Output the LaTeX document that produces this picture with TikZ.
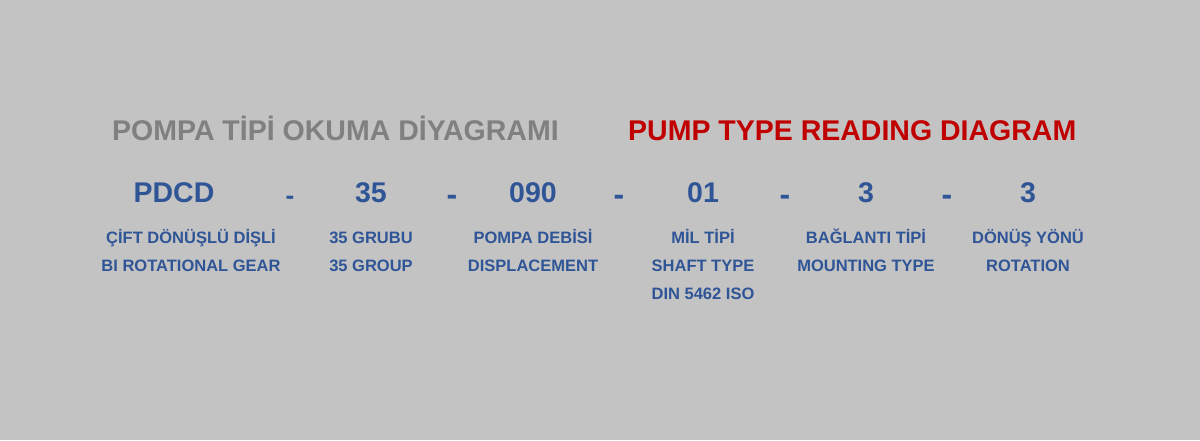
\documentclass[tikz,border=0pt]{standalone}
\usepackage{fontspec}
\setmainfont{Liberation Sans}
\usetikzlibrary{positioning}
\definecolor{bggray}{RGB}{195,195,195}
\definecolor{titlegray}{RGB}{128,128,128}
\definecolor{titlered}{RGB}{192,0,0}
\definecolor{codeblue}{RGB}{47,85,151}
\tikzset{
  heading/.style={anchor=base west, inner sep=0pt, font=\bfseries\fontsize{28.5}{34}\selectfont},
  code/.style={anchor=base, inner sep=0pt, text=codeblue, font=\bfseries\fontsize{28.5}{34}\selectfont},
  sep/.style={anchor=base, inner sep=0pt, text=codeblue, font=\bfseries\fontsize{32}{36}\selectfont},
  desc/.style={anchor=base, inner sep=0pt, text=codeblue, font=\bfseries\fontsize{16.5}{20}\selectfont}
}

\begin{document}
\begin{tikzpicture}[x=1pt,y=-1pt]
\fill[bggray] (0,0) rectangle (1200,440);
\useasboundingbox (0,0) rectangle (1200,440);
% titles
\node[heading, text=titlegray] (tr) at (112,140) {POMPA TİPİ OKUMA DİYAGRAMI};
\node[heading, text=titlered] (en) at (628,140) {PUMP TYPE READING DIAGRAM};
% code
\node[code] (pdcd) at (174,202) {PDCD};
\node[sep, font=\bfseries\fontsize{26}{30}\selectfont] (s1) at (290,204.5) {-};
\node[code] (grp) at (371,202) {35};
\node[sep] (s2) at (452,205) {-};
\node[code] (disp) at (533,202) {090};
\node[sep] (s3) at (619,205) {-};
\node[code] (shaft) at (703,202) {01};
\node[sep] (s4) at (785,205) {-};
\node[code] (mount) at (866,202) {3};
\node[sep] (s5) at (947,205) {-};
\node[code] (rot) at (1028,202) {3};
% descriptions
\node[desc] (pdcd1) at (191,243) {ÇİFT DÖNÜŞLÜ DİŞLİ};
\node[desc] (pdcd2) at (191,271) {BI ROTATIONAL GEAR};
\node[desc] (grp1) at (371,243) {35 GRUBU};
\node[desc] (grp2) at (371,271) {35 GROUP};
\node[desc] (disp1) at (533,243) {POMPA DEBİSİ};
\node[desc] (disp2) at (533,271) {DISPLACEMENT};
\node[desc] (shaft1) at (703,243) {MİL TİPİ};
\node[desc] (shaft2) at (703,271) {SHAFT TYPE};
\node[desc] (shaft3) at (703,299) {DIN 5462 ISO};
\node[desc] (mount1) at (866,243) {BAĞLANTI TİPİ};
\node[desc] (mount2) at (866,271) {MOUNTING TYPE};
\node[desc] (rot1) at (1028,243) {DÖNÜŞ YÖNÜ};
\node[desc] (rot2) at (1028,271) {ROTATION};
\end{tikzpicture}
\end{document}
